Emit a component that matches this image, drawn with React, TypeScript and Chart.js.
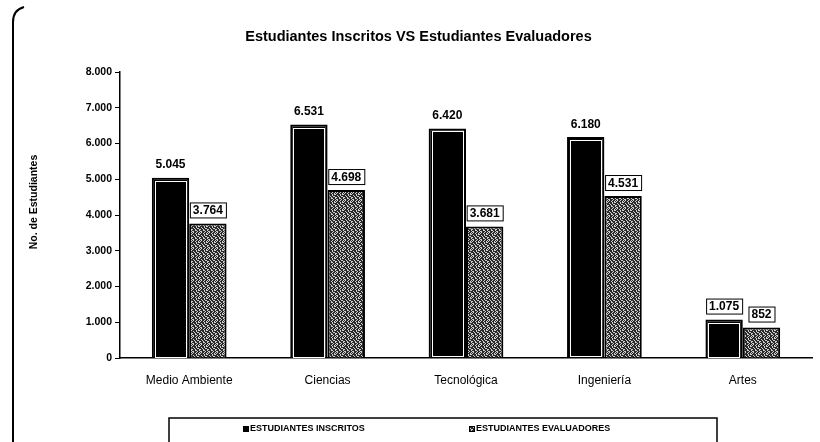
import React, { useEffect, useRef } from "react";
import { Chart, registerables } from "chart.js";

Chart.register(...registerables);

const categories = ["Medio Ambiente", "Ciencias", "Tecnológica", "Ingeniería", "Artes"];
const inscritos = [5045, 6531, 6420, 6180, 1075];
const evaluadores = [3764, 4698, 3681, 4531, 852];
const yTicks = [0, 1000, 2000, 3000, 4000, 5000, 6000, 7000, 8000];
const seriesLabels = ["ESTUDIANTES INSCRITOS", "ESTUDIANTES EVALUADORES"];
const chartTitle = "Estudiantes Inscritos VS Estudiantes Evaluadores";
const yTitle = "No. de Estudiantes";

const fmt = (v: number) => String(v).replace(/\B(?=(\d{3})+(?!\d))/g, ".");

const FONT = "'Liberation Sans', Arial, sans-serif";

function makePattern(): CanvasPattern | string {
  const c = document.createElement("canvas");
  c.width = 8;
  c.height = 8;
  const g = c.getContext("2d");
  if (!g) return "#666";
  const rows = [
    "10110110",
    "01101101",
    "11110100",
    "10110111",
    "11011001",
    "01101110",
    "11100110",
    "00111011",
  ];
  for (let y = 0; y < 8; y++) {
    for (let x = 0; x < 8; x++) {
      g.fillStyle = rows[y][x] === "1" ? "#2a2a2a" : "#cfcfcf";
      g.fillRect(x, y, 1, 1);
    }
  }
  const p = g.createPattern(c, "repeat");
  return p || "#666";
}

const labelsPlugin = {
  id: "valueLabels",
  afterDatasetsDraw(chart: any) {
    const ctx = chart.ctx;
    ctx.save();
    // inner white outline on the black bars
    const m0 = chart.getDatasetMeta(0);
    ctx.strokeStyle = "#fff";
    ctx.lineWidth = 1;
    m0.data.forEach((el: any) => {
      const w = el.width;
      const l = el.x - w / 2 + 3;
      const t = el.y + 3;
      const h = el.base - el.y - 4;
      ctx.strokeRect(Math.round(l) + 0.5, Math.round(t) + 0.5, Math.round(w - 6), Math.round(h));
    });
    ctx.fillStyle = "#000";
    m0.data.forEach((el: any) => {
      const w = el.width;
      const l = el.x - w / 2 + 5;
      ctx.fillRect(Math.round(l), Math.round(el.y + 5), Math.round(w - 10), Math.round(el.base - el.y - 6));
    });

    ctx.font = `bold 12px ${FONT}`;
    ctx.textAlign = "center";
    ctx.textBaseline = "middle";
    chart.data.datasets.forEach((ds: any, di: number) => {
      const meta = chart.getDatasetMeta(di);
      meta.data.forEach((el: any, i: number) => {
        const v = ds.data[i] as number;
        const text = fmt(v);
        const x = el.x;
        const y = el.y - 13;
        const boxed = di === 1 || i === categories.length - 1;
        if (boxed) {
          const w = ctx.measureText(text).width + 6;
          ctx.fillStyle = "#fff";
          ctx.fillRect(x - w / 2, y - 8, w, 16);
          ctx.strokeStyle = "#000";
          ctx.lineWidth = 1;
          ctx.strokeRect(x - w / 2 + 0.5, y - 7.5, w, 15);
        }
        ctx.fillStyle = "#000";
        ctx.fillText(text, x, y + 0.5);
      });
    });
    ctx.restore();
  },
};

const framePlugin = {
  id: "frameLegend",
  afterDraw(chart: any) {
    const ctx = chart.ctx;
    ctx.save();
    // left frame
    ctx.strokeStyle = "#000";
    ctx.lineWidth = 2;
    ctx.beginPath();
    ctx.moveTo(24, 7);
    ctx.quadraticCurveTo(13, 10, 13, 22);
    ctx.lineTo(13, 442);
    ctx.stroke();
    // y axis title
    ctx.save();
    ctx.translate(34, 202);
    ctx.rotate(-Math.PI / 2);
    ctx.font = `bold 10.5px ${FONT}`;
    ctx.textAlign = "center";
    ctx.textBaseline = "middle";
    ctx.fillStyle = "#000";
    ctx.fillText(yTitle, 0, 0);
    ctx.restore();
    // legend box
    ctx.lineWidth = 1.5;
    ctx.beginPath();
    ctx.moveTo(169, 442);
    ctx.lineTo(169, 418);
    ctx.lineTo(717, 418);
    ctx.lineTo(717, 442);
    ctx.stroke();
    ctx.font = `bold 9px ${FONT}`;
    ctx.textBaseline = "middle";
    ctx.textAlign = "left";
    const xs = [243, 469];
    const fills = ["#000", chart.data.datasets[1].backgroundColor];
    seriesLabels.forEach((t, i) => {
      const x = xs[i];
      const y = 429;
      ctx.fillStyle = fills[i];
      ctx.fillRect(x, y - 3, 6, 6);
      ctx.strokeStyle = "#000";
      ctx.lineWidth = 1;
      ctx.strokeRect(x + 0.5, y - 2.5, 5, 5);
      ctx.fillStyle = "#000";
      ctx.fillText(t, x + 7, y);
    });
    ctx.restore();
  },
};

export default function App() {
  const ref = useRef<HTMLCanvasElement | null>(null);
  useEffect(() => {
    if (!ref.current) return;
    const pattern = makePattern();
    const chart = new Chart(ref.current, {
      type: "bar",
      data: {
        labels: categories,
        datasets: [
          {
            label: seriesLabels[0],
            data: inscritos,
            backgroundColor: "#000",
            borderColor: "#000",
            borderWidth: 2,
            categoryPercentage: 0.54,
            barPercentage: 1,
          },
          {
            label: seriesLabels[1],
            data: evaluadores,
            backgroundColor: pattern as any,
            borderColor: "#000",
            borderWidth: 2,
            categoryPercentage: 0.54,
            barPercentage: 1,
          },
        ],
      },
      options: {
        responsive: false,
        animation: false,
        layout: { padding: { left: 25, right: 8, top: 0, bottom: 0 } },
        plugins: {
          legend: { display: false },
          tooltip: { enabled: false },
          title: {
            display: true,
            text: chartTitle,
            color: "#000",
            font: { family: FONT, size: 14.5, weight: "bold" },
            padding: { top: 28, bottom: 26.6 },
          },
        },
        scales: {
          x: {
            grid: { display: false, drawTicks: false },
            border: { color: "#000", width: 1.5 },
            ticks: {
              color: "#000",
              font: { family: FONT, size: 12 },
              padding: 15,
              maxRotation: 0,
              autoSkip: false,
            },
            afterFit: (s: any) => {
              s.height = 84;
            },
          },
          y: {
            min: 0,
            max: 8000,
            afterBuildTicks: (s: any) => {
              s.ticks = yTicks.map((v) => ({ value: v }));
            },
            grid: {
              drawOnChartArea: false,
              drawTicks: true,
              tickLength: 5,
              color: "#000",
            },
            border: { color: "#000", width: 1.5 },
            ticks: {
              color: "#000",
              font: { family: FONT, size: 10.5, weight: "bold" },
              padding: 3,
              callback: (v: any) => fmt(Number(v)),
            },
            title: { display: false },
            afterFit: (s: any) => {
              s.width = 95;
            },
          },
        },
      },
      plugins: [labelsPlugin, framePlugin],
    });
    return () => chart.destroy();
  }, []);
  return (
    <div style={{ position: "absolute", left: 0, top: 0, width: 820, height: 442, background: "#fff" }}>
      <canvas ref={ref} width={820} height={442} style={{ display: "block" }} />
    </div>
  );
}
